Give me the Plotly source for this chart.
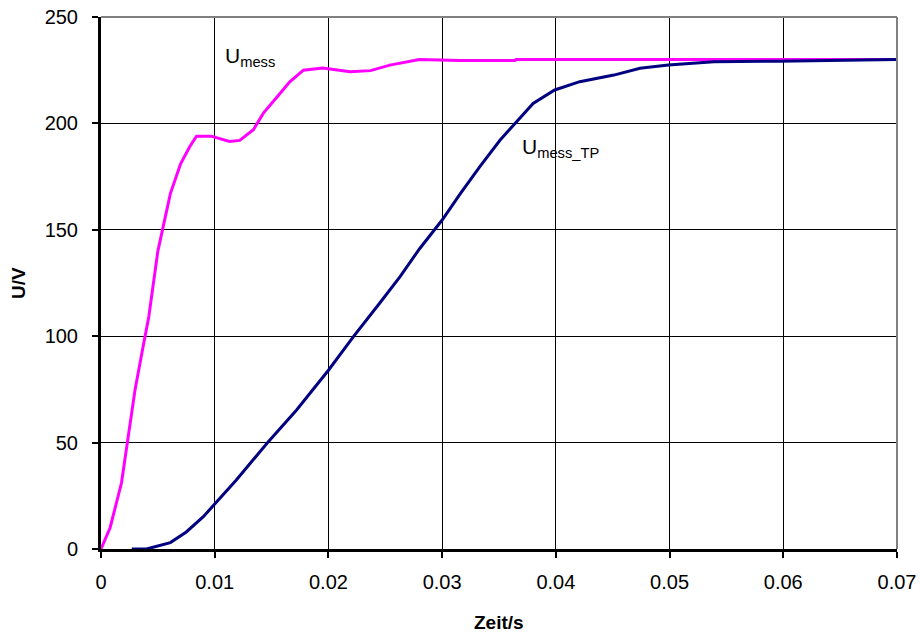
import plotly.graph_objects as go

# Data
t_mess = [0, 0.0008, 0.0018, 0.00255, 0.003, 0.0037, 0.0042, 0.005, 0.0061, 0.007, 0.0078,
          0.0084, 0.0097, 0.0113, 0.0122, 0.0134, 0.0143, 0.0155, 0.0166, 0.0178, 0.0195,
          0.0219, 0.0237, 0.0254, 0.0272, 0.028, 0.0316, 0.0364, 0.0365, 0.04, 0.05, 0.06, 0.07]
u_mess = [0, 10, 31, 59, 75, 95, 109, 140, 167, 181, 189,
          194, 194, 191.5, 192, 197, 205, 212.5, 219.5, 225, 226,
          224.3, 224.8, 227.4, 229, 230, 229.5, 229.5, 230, 230, 230, 230, 230]

t_tp = [0.0027, 0.004, 0.0061, 0.0075, 0.009, 0.0099, 0.0119, 0.0146, 0.0172, 0.02, 0.0222,
        0.0245, 0.0263, 0.028, 0.03, 0.0316, 0.0333, 0.0351, 0.0364, 0.038, 0.0399, 0.0421,
        0.0451, 0.0474, 0.0499, 0.0539, 0.0595, 0.07]
u_tp = [0, 0, 3, 8, 15.2, 20.7, 32.4, 49.7, 65.3, 84, 99.8,
        115.5, 128, 141, 154.6, 167, 179.6, 192.2, 200, 209.4, 215.7, 219.6,
        222.7, 225.9, 227.4, 229, 229.2, 230]

x_ticks = [0, 0.01, 0.02, 0.03, 0.04, 0.05, 0.06, 0.07]
x_tick_labels = ["0", "0.01", "0.02", "0.03", "0.04", "0.05", "0.06", "0.07"]
y_ticks = [0, 50, 100, 150, 200, 250]

FONT = "Liberation Sans, Arial, sans-serif"

fig = go.Figure()
fig.add_trace(go.Scatter(x=t_mess, y=u_mess, mode="lines",
                         line=dict(color="#FF00FF", width=3), name="U_mess"))
fig.add_trace(go.Scatter(x=t_tp, y=u_tp, mode="lines",
                         line=dict(color="#000080", width=3), name="U_mess_TP"))

fig.add_annotation(x=0.0107, y=231, text="U<sub>mess</sub>", showarrow=False,
                   xanchor="left", yanchor="middle", font=dict(family=FONT, size=21, color="black"))
fig.add_annotation(x=0.03685, y=188.5, text="U<sub>mess_TP</sub>", showarrow=False,
                   xanchor="left", yanchor="middle", font=dict(family=FONT, size=21, color="black"))

# axis titles
fig.add_annotation(xref="paper", yref="paper", x=0.5, y=0, yshift=-73, text="<b>Zeit/s</b>",
                   showarrow=False, xanchor="center", yanchor="middle",
                   font=dict(family=FONT, size=19, color="black"))
fig.add_annotation(xref="paper", yref="paper", x=0, y=0.5, xshift=-83, text="<b>U/V</b>",
                   showarrow=False, xanchor="center", yanchor="middle", textangle=-90,
                   font=dict(family=FONT, size=19, color="black"))

# grey top and right frame
fig.add_shape(type="line", xref="paper", yref="paper", x0=0, x1=1, y0=1, y1=1,
              line=dict(color="#808080", width=2))
fig.add_shape(type="line", xref="paper", yref="paper", x0=1, x1=1, y0=0, y1=1,
              line=dict(color="#808080", width=2))

fig.update_layout(
    width=920, height=633,
    margin=dict(l=101, r=23, t=17, b=84),
    paper_bgcolor="white", plot_bgcolor="white",
    showlegend=False,
    font=dict(family=FONT, size=20, color="black"),
    xaxis=dict(range=[0, 0.07], tickvals=x_ticks, ticktext=x_tick_labels,
               showgrid=True, gridcolor="black", gridwidth=1,
               showline=True, linecolor="black", linewidth=3,
               ticks="outside", ticklen=6, tickwidth=2, tickcolor="black",
               ticklabelstandoff=7, zeroline=False, automargin=False),
    yaxis=dict(range=[0, 250], tickvals=y_ticks,
               showgrid=True, gridcolor="black", gridwidth=1,
               showline=True, linecolor="black", linewidth=3,
               ticks="outside", ticklen=6, tickwidth=2, tickcolor="black",
               ticklabelstandoff=10, zeroline=False, automargin=False),
)

fig.write_html("out.html")
